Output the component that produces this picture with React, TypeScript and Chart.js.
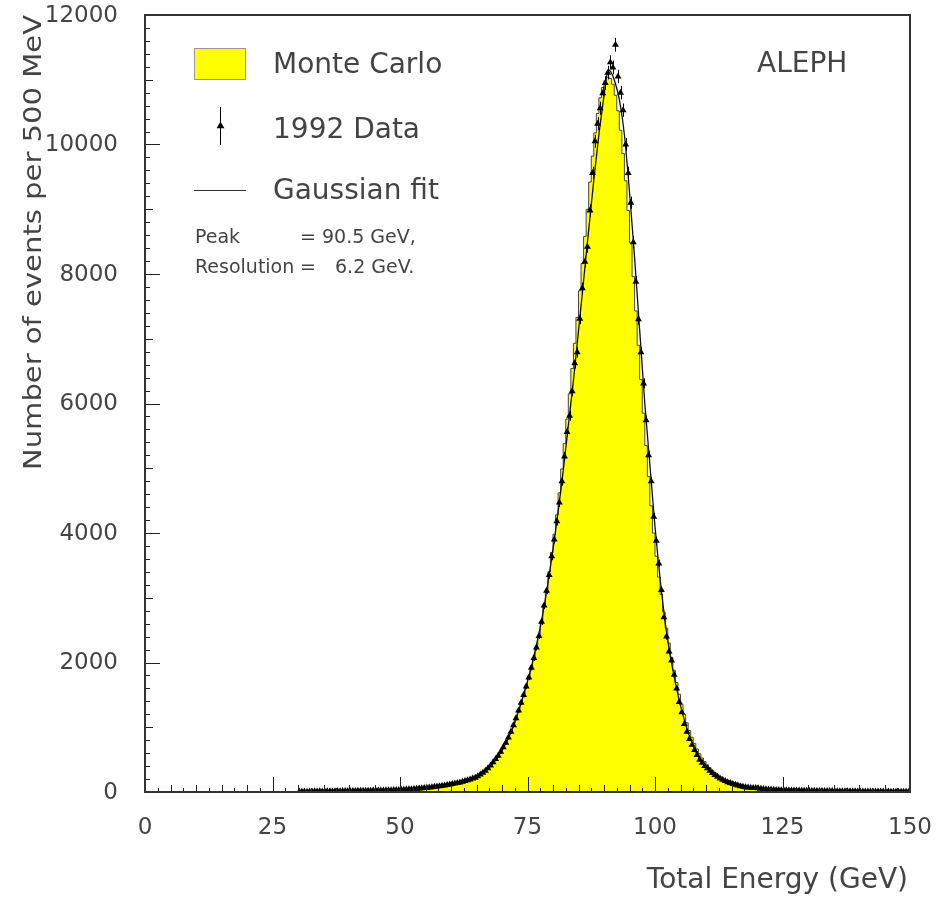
import React, { useEffect, useRef } from 'react';
import { Chart, registerables } from 'chart.js';

Chart.register(...registerables);

// ---------- data ----------
const BIN_WIDTH = 0.5; // GeV (500 MeV bins)

// 1992 data: counts per bin, first bin centred at 30.25 GeV
const DATA_FIRST_CENTER = 30.25;
const dataCounts = [
  6, 4, 8, 5, 9, 7, 10, 8, 11, 9,
  12, 10, 13, 11, 12, 14, 13, 15, 14, 16,
  15, 17, 16, 18, 19, 18, 20, 21, 20, 22,
  23, 22, 24, 25, 26, 27, 28, 29, 30, 32,
  34, 36, 38, 41, 44, 47, 50, 54, 58, 62,
  66, 70, 75, 80, 85, 90, 96, 102, 108, 115,
  122, 130, 138, 147, 157, 168, 180, 193, 207, 222,
  245, 270, 298, 330, 368, 410, 460, 510, 560, 620,
  690, 760, 840, 930, 1030, 1140, 1260, 1380, 1500, 1630,
  1770, 1920, 2070, 2230, 2410, 2630, 2880, 3110, 3350, 3640,
  3900, 4180, 4470, 4800, 5180, 5560, 5810, 6190, 6620, 6790,
  7310, 7780, 8190, 8420, 8980, 9560, 10050, 10320, 10560, 10790,
  10950, 11110, 11270, 11190, 11540, 11050, 10800, 10530, 10000, 9560,
  9100, 8490, 7880, 7300, 6790, 6310, 5740, 5200, 4800, 4250,
  3880, 3530, 3120, 2700, 2400, 2170, 2030, 1810, 1600, 1390,
  1230, 1050, 930, 820, 730, 650, 570, 500, 450, 400,
  365, 330, 295, 262, 235, 210, 190, 170, 152, 138,
  125, 112, 100, 90, 81, 75, 70, 66, 63, 60,
  56, 52, 48, 44, 40, 37, 34, 32, 30, 28,
  27, 26, 25, 24, 23, 22, 22, 21, 20, 19,
  19, 18, 18, 17, 16, 16, 15, 15, 14, 14,
  13, 13, 12, 12, 11, 11, 11, 10, 10, 9,
  9, 9, 8, 8, 8, 7, 7, 7, 6, 6,
  6, 6, 5, 5, 5, 5, 4, 4, 4, 4,
];

// Monte Carlo histogram: counts per bin, first bin low edge at 50 GeV
const MC_FIRST_EDGE = 50;
const mcCounts = [
  10, 12, 14, 16, 19, 22, 25, 28, 32, 36,
  40, 44, 49, 54, 60, 66, 72, 79, 86, 94,
  102, 111, 121, 132, 144, 157, 171, 186, 202, 220,
  238, 258, 280, 305, 333, 365, 400, 440, 485, 550,
  620, 690, 765, 850, 940, 1040, 1150, 1265, 1385, 1510,
  1640, 1780, 1920, 2070, 2230, 2420, 2640, 2880, 3130, 3400,
  3700, 3980, 4280, 4620, 4990, 5380, 5760, 6150, 6540, 6930,
  7330, 7740, 8160, 8580, 9000, 9420, 9820, 10180, 10480, 10720,
  10880, 10990, 11040, 11020, 10930, 10760, 10520, 10220, 9860, 9440,
  8980, 8480, 7960, 7430, 6900, 6370, 5850, 5350, 4870, 4420,
  4000, 3640, 3320, 3050, 2780, 2530, 2300, 2080, 1880, 1690,
  1510, 1350, 1200, 1070, 950, 845, 750, 665, 590, 525,
  470, 420, 375, 335, 300, 268, 240, 215, 193, 175,
  170, 155, 142, 130, 118, 107, 97, 88, 80, 72,
  65, 58, 52, 46, 41, 36, 32, 28, 25, 22,
  19, 17, 15, 13, 11, 10, 9, 8, 7, 6,
];

// Gaussian fit curve
const fitEnergy = [
  56, 58, 60, 62, 64, 66, 68, 70, 72, 74, 76, 78, 80, 82, 84, 86, 88, 89, 90, 90.5,
  91, 91.5, 92, 93, 94, 96, 98, 100, 102, 104, 106, 108, 110, 112, 114, 116, 118, 120, 122, 124,
];
const fitValues = [
  85, 106, 128, 170, 218, 290, 420, 640, 970, 1440, 2010, 2750, 3750, 4960, 6350, 7900, 9450, 10150, 10750, 11050,
  11150, 11100, 11000, 10700, 10150, 8250, 6000, 4100, 2620, 1680, 1040, 620, 375, 240, 155, 105, 75, 58, 45, 35,
];

const xTickValues = [0, 25, 50, 75, 100, 125, 150];
const xTickLabels = ['0', '25', '50', '75', '100', '125', '150'];
const yTickValues = [0, 2000, 4000, 6000, 8000, 10000, 12000];
const yTickLabels = ['0', '2000', '4000', '6000', '8000', '10000', '12000'];

const legendLabels = ['Monte Carlo', '1992 Data', 'Gaussian fit'];
const fitInfo = { peak: '= 90.5 GeV,', resolution: '6.2 GeV.' };
const experimentLabel = 'ALEPH';
const xTitle = 'Total Energy (GeV)';
const yTitle = 'Number of events per 500 MeV';

// ---------- styles ----------
const FONT = "'DejaVu Sans', sans-serif";
const TEXT = '#444';
const YELLOW = '#ffff00';

const X_MIN = 0, X_MAX = 150;
const Y_MIN = 0, Y_MAX = 12000;

function drawTriangle(ctx: CanvasRenderingContext2D, x: number, y: number, r: number) {
  ctx.beginPath();
  ctx.moveTo(x, y - r);
  ctx.lineTo(x + r * 0.866, y + r * 0.5);
  ctx.lineTo(x - r * 0.866, y + r * 0.5);
  ctx.closePath();
  ctx.fill();
}

const errorBarPlugin = {
  id: 'errorBars',
  afterDatasetsDraw(chart: any) {
    const { ctx, scales } = chart;
    const ys = scales.y, xs = scales.x;
    ctx.save();
    ctx.strokeStyle = '#000';
    ctx.lineWidth = 1;
    dataCounts.forEach((n, i) => {
      const e = Math.sqrt(n);
      const px = Math.round(xs.getPixelForValue(DATA_FIRST_CENTER + i * BIN_WIDTH)) + 0.5;
      ctx.beginPath();
      ctx.moveTo(px, ys.getPixelForValue(n - e));
      ctx.lineTo(px, ys.getPixelForValue(n + e));
      ctx.stroke();
    });
    ctx.restore();
  },
};

const framePlugin = {
  id: 'frameTicksText',
  afterDraw(chart: any) {
    const { ctx, chartArea: a, scales } = chart;
    const xs = scales.x, ys = scales.y;
    ctx.save();
    ctx.strokeStyle = '#222';
    ctx.lineWidth = 1;
    // x ticks (inward): minor 2.5, medium 5, major 25
    for (let i = 0; i <= 60; i++) {
      const px = Math.round(xs.getPixelForValue(i * 2.5)) + 0.5;
      const len = i % 10 === 0 ? 15 : i % 2 === 0 ? 7 : 4;
      ctx.beginPath();
      ctx.moveTo(px, a.bottom);
      ctx.lineTo(px, a.bottom - len);
      ctx.stroke();
    }
    // y ticks (inward): minor 200, medium 1000, major 2000
    for (let i = 0; i <= 60; i++) {
      const py = Math.round(ys.getPixelForValue(i * 200)) + 0.5;
      const len = i % 10 === 0 ? 15 : i % 5 === 0 ? 8 : 5;
      ctx.beginPath();
      ctx.moveTo(a.left, py);
      ctx.lineTo(a.left + len, py);
      ctx.stroke();
    }
    // frame
    ctx.strokeStyle = '#333';
    ctx.lineWidth = 2;
    ctx.strokeRect(a.left, a.top, a.right - a.left, a.bottom - a.top);

    // tick labels
    ctx.fillStyle = '#444';
    ctx.font = `23px ${FONT}`;
    ctx.textBaseline = 'middle';
    ctx.textAlign = 'center';
    xTickValues.forEach((v, i) => {
      ctx.fillText(xTickLabels[i], xs.getPixelForValue(v), 828);
    });
    ctx.textAlign = 'right';
    yTickValues.forEach((v, i) => {
      ctx.fillText(yTickLabels[i], 118, ys.getPixelForValue(v) + 1);
    });

    // ----- texts -----
    ctx.fillStyle = TEXT;
    ctx.textBaseline = 'middle';
    ctx.textAlign = 'left';
    ctx.font = `28px ${FONT}`;
    // legend: Monte Carlo
    ctx.fillStyle = YELLOW;
    ctx.fillRect(194, 48, 52, 32);
    ctx.strokeStyle = '#999';
    ctx.lineWidth = 1;
    ctx.strokeRect(194.5, 48.5, 51, 31);
    ctx.fillStyle = TEXT;
    ctx.fillText(legendLabels[0], 273, 66);
    // 1992 data marker
    ctx.strokeStyle = '#000';
    ctx.beginPath();
    ctx.moveTo(220.5, 107);
    ctx.lineTo(220.5, 145);
    ctx.stroke();
    ctx.fillStyle = '#000';
    drawTriangle(ctx, 220.5, 126, 4.5);
    ctx.fillStyle = TEXT;
    ctx.fillText(legendLabels[1], 273, 131);
    // Gaussian fit line
    ctx.strokeStyle = '#333';
    ctx.beginPath();
    ctx.moveTo(194, 190.5);
    ctx.lineTo(246, 190.5);
    ctx.stroke();
    ctx.fillText(legendLabels[2], 273, 192);
    // fit info
    ctx.font = `19px ${FONT}`;
    ctx.fillText('Peak', 195, 238);
    ctx.fillText(fitInfo.peak, 300, 238);
    ctx.fillText('Resolution', 195, 268);
    ctx.fillText('=', 300, 268);
    ctx.fillText(fitInfo.resolution, 335, 268);
    // ALEPH
    ctx.font = `28px ${FONT}`;
    ctx.fillText(experimentLabel, 757, 65);
    // axis titles
    ctx.textAlign = 'right';
    ctx.fillText(xTitle, 908, 881);
    ctx.save();
    ctx.font = `25px ${FONT}`;
    ctx.translate(41, 15);
    ctx.rotate(-Math.PI / 2);
    const w = ctx.measureText(yTitle).width;
    ctx.scale(455 / w, 1);
    ctx.textBaseline = 'alphabetic';
    ctx.textAlign = 'right';
    ctx.fillText(yTitle, 0, 0);
    ctx.restore();
    ctx.restore();
  },
};

export default function App() {
  const ref = useRef<HTMLCanvasElement | null>(null);

  useEffect(() => {
    document.body.style.margin = '0';
    const canvas = ref.current;
    if (!canvas) return;

    const dataPoints = dataCounts.map((n, i) => ({ x: DATA_FIRST_CENTER + i * BIN_WIDTH, y: n }));
    const mcPoints = mcCounts.map((n, i) => ({ x: MC_FIRST_EDGE + i * BIN_WIDTH, y: n }));
    mcPoints.push({ x: MC_FIRST_EDGE + mcCounts.length * BIN_WIDTH, y: 0 });
    const fitPoints = fitEnergy.map((e, i) => ({ x: e, y: fitValues[i] }));

    const chart = new Chart(canvas, {
      type: 'line',
      data: {
        datasets: [
          {
            label: legendLabels[1],
            data: dataPoints,
            showLine: false,
            pointStyle: 'triangle',
            pointRadius: 4,
            pointBackgroundColor: '#000',
            pointBorderColor: '#000',
            pointBorderWidth: 0,
            order: 0,
          },
          {
            label: legendLabels[2],
            data: fitPoints,
            borderColor: '#111',
            borderWidth: 1.3,
            pointRadius: 0,
            fill: false,
            cubicInterpolationMode: 'monotone',
            order: 1,
          },
          {
            label: legendLabels[0],
            data: mcPoints,
            stepped: 'after',
            borderColor: '#444',
            borderWidth: 1,
            backgroundColor: YELLOW,
            fill: 'origin',
            pointRadius: 0,
            order: 2,
          },
        ],
      },
      options: {
        responsive: false,
        animation: false,
        devicePixelRatio: 1,
        layout: { padding: { top: 15, right: 36, left: 0, bottom: 0 } },
        plugins: { legend: { display: false }, tooltip: { enabled: false } },
        scales: {
          x: {
            type: 'linear',
            min: X_MIN,
            max: X_MAX,
            grid: { display: false, drawTicks: false },
            border: { display: false },
            ticks: { display: false },
            afterFit: (s: any) => { s.height = 106; },
          },
          y: {
            type: 'linear',
            min: Y_MIN,
            max: Y_MAX,
            grid: { display: false, drawTicks: false },
            border: { display: false },
            ticks: { display: false },
            afterFit: (s: any) => { s.width = 145; },
          },
        },
      },
      plugins: [errorBarPlugin, framePlugin],
    });
    return () => chart.destroy();
  }, []);

  return (
    <div style={{ width: 946, height: 898, position: 'relative', background: '#fff' }}>
      <canvas ref={ref} width={946} height={898} style={{ width: 946, height: 898, display: 'block' }} />
    </div>
  );
}
